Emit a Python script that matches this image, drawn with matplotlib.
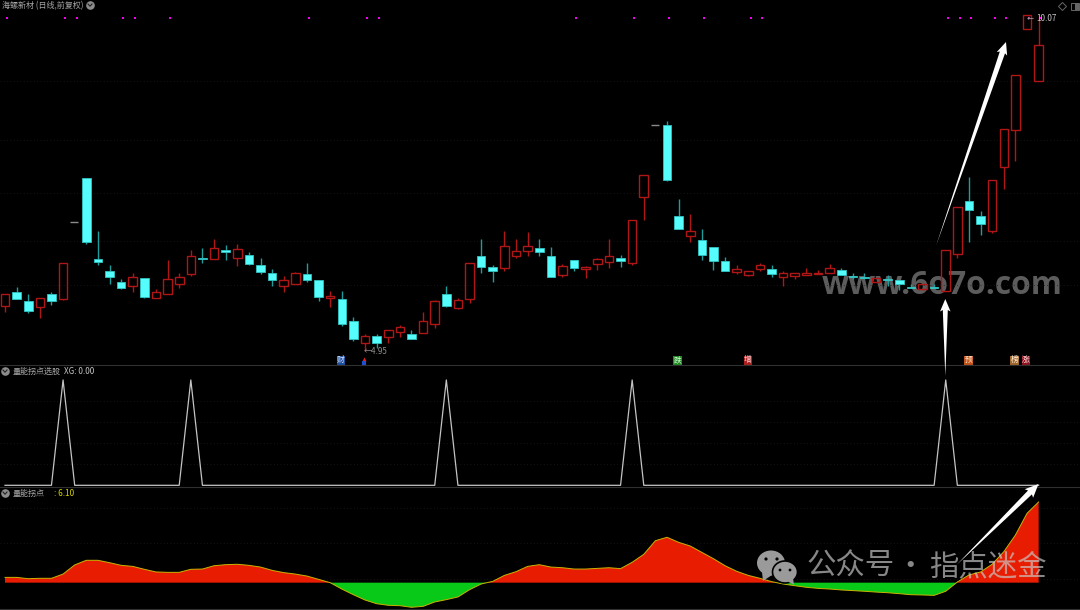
import matplotlib
matplotlib.use("Agg")
import matplotlib.pyplot as plt
from matplotlib.patches import Rectangle, Ellipse, Polygon
import numpy as np

plt.rcParams['font.family'] = ['Noto Sans CJK SC', 'DejaVu Sans']

# daily prices
opens = [5.63, 5.85, 5.70, 5.62, 5.81, 5.74, 6.91, 7.59, 6.34, 6.16,
         6.00, 5.94, 6.06, 5.76, 5.82, 5.96, 6.12, 6.37, 6.34, 6.48,
         6.36, 6.41, 6.26, 6.13, 5.94, 5.96, 6.12, 6.02, 5.76, 5.73,
         5.40, 5.07, 5.18, 5.15, 5.23, 5.20, 5.22, 5.36, 5.81, 5.60,
         5.73, 6.39, 6.23, 6.21, 6.39, 6.47, 6.51, 6.40, 6.11, 6.33,
         6.20, 6.27, 6.30, 6.37, 6.29, 7.30, 8.39, 8.39, 7.00, 6.70,
         6.63, 6.53, 6.32, 6.15, 6.11, 6.20, 6.19, 6.08, 6.09, 6.11,
         6.12, 6.13, 6.18, 6.09, 6.07, 5.99, 6.04, 6.02, 5.92, 5.89,
         5.92, 5.86, 6.43, 7.23, 7.00, 6.77, 7.75, 8.32, 9.85, 9.06]
highs = [5.82, 5.92, 5.82, 5.76, 5.85, 6.28, 6.91, 7.59, 6.77, 6.25,
         6.05, 6.13, 6.06, 5.89, 6.33, 6.14, 6.49, 6.52, 6.65, 6.56,
         6.58, 6.45, 6.37, 6.19, 6.09, 6.15, 6.28, 6.02, 5.86, 5.86,
         5.46, 5.20, 5.20, 5.26, 5.34, 5.26, 5.54, 5.72, 5.94, 5.75,
         6.28, 6.66, 6.25, 6.77, 6.66, 6.76, 6.65, 6.53, 6.27, 6.33,
         6.24, 6.36, 6.65, 6.41, 6.95, 7.63, 8.39, 8.45, 7.26, 7.04,
         6.80, 6.53, 6.38, 6.25, 6.16, 6.28, 6.26, 6.16, 6.14, 6.21,
         6.18, 6.27, 6.21, 6.14, 6.13, 6.06, 6.10, 6.02, 5.97, 5.96,
         5.97, 6.49, 7.14, 7.60, 7.08, 7.56, 8.33, 9.16, 10.07, 10.05]
lows = [5.54, 5.73, 5.52, 5.45, 5.65, 5.72, 6.91, 6.57, 6.25, 5.97,
        5.89, 5.85, 5.75, 5.76, 5.82, 5.91, 6.09, 6.28, 6.34, 6.33,
        6.24, 6.25, 6.12, 5.94, 5.85, 5.96, 6.00, 5.71, 5.62, 5.33,
        5.09, 4.95, 4.99, 5.07, 5.16, 5.13, 5.22, 5.30, 5.61, 5.58,
        5.67, 6.14, 6.00, 6.17, 6.37, 6.40, 6.39, 6.08, 6.07, 6.16,
        6.06, 6.18, 6.21, 6.23, 6.26, 6.95, 8.39, 7.54, 6.81, 6.61,
        6.33, 6.18, 6.16, 6.12, 6.09, 6.17, 6.08, 5.94, 6.05, 6.10,
        6.12, 6.13, 6.10, 6.05, 6.04, 5.99, 5.94, 5.87, 5.91, 5.87,
        5.91, 5.86, 6.37, 6.61, 6.71, 6.74, 7.41, 7.84, 9.85, 9.06]
closes = [5.82, 5.73, 5.56, 5.76, 5.71, 6.28, 6.91, 6.60, 6.30, 6.07,
          5.90, 6.07, 5.77, 5.85, 6.05, 6.08, 6.40, 6.34, 6.52, 6.45,
          6.50, 6.27, 6.15, 6.03, 6.03, 6.14, 6.02, 5.77, 5.79, 5.35,
          5.12, 5.18, 5.07, 5.26, 5.31, 5.13, 5.40, 5.70, 5.63, 5.72,
          6.28, 6.23, 6.17, 6.54, 6.47, 6.55, 6.45, 6.08, 6.24, 6.21,
          6.22, 6.34, 6.40, 6.32, 6.95, 7.63, 8.39, 7.55, 6.81, 6.77,
          6.41, 6.31, 6.16, 6.19, 6.16, 6.25, 6.12, 6.13, 6.14, 6.13,
          6.14, 6.21, 6.10, 6.08, 6.06, 6.06, 6.03, 5.96, 5.91, 5.96,
          5.91, 6.49, 7.14, 7.10, 6.88, 7.56, 8.33, 9.16, 10.07, 9.62]

# days flagged with a dot along the top of the price pane
dot_days = [0, 5, 6, 10, 11, 14, 26, 31, 32, 49, 54, 57, 60, 64, 65, 81, 82, 83, 85, 86, 88, 89]
price_grid = [5.95, 6.62, 7.35, 8.16, 9.06]

# XG signal fires on these days
xg_days = [5, 16, 38, 54, 81]
xg_grid = [0.2, 0.4, 0.6, 0.8]

# 量能拐点 line
turn_values = [0.40, 0.40, 0.30, 0.33, 0.33, 0.65, 1.34, 1.69, 1.69, 1.51,
               1.31, 1.23, 1.01, 0.81, 0.78, 0.78, 1.01, 1.03, 1.28, 1.36,
               1.39, 1.31, 1.18, 0.93, 0.76, 0.65, 0.50, 0.25, 0.00, -0.48,
               -0.91, -1.31, -1.59, -1.71, -1.74, -1.86, -1.79, -1.46, -1.28, -1.08,
               -0.53, -0.10, 0.10, 0.55, 0.83, 1.23, 1.36, 1.18, 1.13, 1.03,
               1.03, 1.08, 1.13, 1.06, 1.54, 2.14, 3.17, 3.43, 3.05, 2.77,
               2.29, 1.81, 1.28, 0.86, 0.55, 0.33, 0.08, -0.10, -0.23, -0.35,
               -0.43, -0.48, -0.55, -0.60, -0.65, -0.71, -0.76, -0.83, -0.91, -0.93,
               -0.96, -0.65, 0.05, 0.58, 0.81, 1.39, 2.34, 3.60, 5.24, 6.10]
turn_grid = [0.28, 3.0, 5.65]

W, H = 1080, 610
RED = '#b01616'
CYAN = '#55fdfd'
CYAN_WICK = '#1f9c9c'
GRID = '#1c1c1c'
LABEL = 5.8

fig = plt.figure(figsize=(W / 100, H / 100), dpi=100, facecolor='black')


def pane(top, bottom, ymin, ymax):
    ax = fig.add_axes([0, 1 - bottom / H, 1, (bottom - top) / H], facecolor='black')
    ax.set_xlim(-0.4305, 92.56)
    ax.set_ylim(ymin, ymax)
    ax.axis('off')
    return ax


days = np.arange(len(closes))

# site watermark goes under the candles
fig.text(822 / W, 1 - 285 / H, 'www.6o7o.com', color='#5c5c5c', fontsize=22.9, fontweight='bold',
         family=['Open Sans', 'DejaVu Sans'], va='center', zorder=-1)

# ---- price pane
ax1 = pane(0, 365, 4.73, 10.30)
ax1.hlines(price_grid, -0.43, 92.56, color=GRID, lw=0.6, linestyles=(0, (1, 3)), zorder=0)
for d, o, h, l, c in zip(days, opens, highs, lows, closes):
    if o == c and h == l:
        # flat limit day, only a dash
        ax1.hlines(o, d - 0.4, d + 0.3, color='#8a8a8a', lw=1.0)
        continue
    up = c >= o
    top, bot = max(o, c), min(o, c)
    wick = RED if up else CYAN_WICK
    ax1.vlines(d, top, h, color=wick, lw=1.0, zorder=2)
    ax1.vlines(d, l, bot, color=wick, lw=1.0, zorder=2)
    if up:
        ax1.add_patch(Rectangle((d - 0.37, bot), 0.74, top - bot, fc='none', ec=RED, lw=1.0, zorder=3))
    else:
        ax1.add_patch(Rectangle((d - 0.37, bot), 0.74, top - bot, fc=CYAN, ec='#30c4c4', lw=0.6, zorder=3))
ax1.scatter(np.array(dot_days) + 0.2, [10.02] * len(dot_days), s=2.2, marker='s', color='#f000f0', zorder=4, linewidths=0)

# ---- XG pane
ax2 = pane(365, 487, -0.016, 1.142)
ax2.hlines(xg_grid, -0.43, 92.56, color=GRID, lw=0.6, linestyles=(0, (1, 3)), zorder=0)
xg = np.zeros(len(days))
xg[xg_days] = 1
ax2.plot(days, xg, color='#c4c4c4', lw=0.9)

# ---- 量能拐点 pane
ax3 = pane(487, 609, -1.99, 7.23)
ax3.hlines(turn_grid, -0.43, 92.56, color=GRID, lw=0.6, linestyles=(0, (1, 3)), zorder=0)
turn = np.array(turn_values)
ax3.fill_between(days, turn, 0, where=turn >= 0, interpolate=True, color='#e81c00', lw=0)
ax3.fill_between(days, turn, 0, where=turn <= 0, interpolate=True, color='#08c818', lw=0)
ax3.plot(days, turn, color='#c8b400', lw=0.7)

# ---- overlay in pixel coordinates: frame lines, labels, arrows, watermarks
ov = fig.add_axes([0, 0, 1, 1], facecolor='none')
ov.set_xlim(0, W)
ov.set_ylim(H, 0)
ov.axis('off')

for y in [365, 487, 608.5]:
    ov.plot([0, W], [y, y], color='#303030', lw=0.8)


def small_icon(x, y):
    ov.plot(x, y, 'o', ms=6.2, color='#8c8c8c', mew=0)
    ov.plot([x - 2, x, x + 2], [y - 1, y + 1.2, y - 1], color='#202020', lw=0.8)


small_icon(90, 5)
small_icon(5, 371)
small_icon(5, 493)
ov.text(2, 5.5, '海螺新材 (日线,前复权)', color='#a6a6a6', fontsize=LABEL, va='center')
ov.text(12.5, 371, '量能拐点选股', color='#a6a6a6', fontsize=LABEL, va='center')
ov.text(64, 371, 'XG: 0.00', color='#c8c8c8', fontsize=LABEL, va='center')
ov.text(12.5, 493, '量能拐点', color='#a6a6a6', fontsize=LABEL, va='center')
ov.text(54, 493, ': 6.10', color='#d8d800', fontsize=LABEL, va='center')
ov.text(364, 351, '←4.95', color='#8c8c8c', fontsize=LABEL, va='center')
ov.text(1027, 18.5, '←', color='#a0a0a0', fontsize=5, va='center')
ov.text(1036, 18.5, '10.07', color='#c8c8c8', fontsize=LABEL, va='center')

ov.plot(1061.5, 6, 'D', ms=4.2, mfc='none', mec='#666666', mew=0.7)
ov.add_patch(Rectangle((1070.5, 2.5), 8, 7, fc='none', ec='#666666', lw=0.7))
ov.add_patch(Rectangle((1075, 2.5), 3.5, 7, fc='#666666', ec='none'))

# event tags above the XG pane
tags = [('财', 341, '#1d4f9c', '#d8e4ff'), ('跌', 677.5, '#1f8a22', '#d8ffd8'),
        ('增', 748, '#a82020', '#ffd8d8'), ('预', 968.5, '#c0521a', '#ffe4cc'),
        ('榜', 1014.5, '#a0682c', '#ffeedd'), ('涨', 1026, '#8c1420', '#ffd8d8')]
for label, x, bg, fg in tags:
    ov.add_patch(Rectangle((x - 4.2, 355.5), 8.4, 9, fc=bg, ec='none'))
    ov.text(x, 360, label, color=fg, fontsize=5.6, ha='center', va='center')
ov.plot(364, 359, '^', ms=3, color='#e02020', mew=0)
ov.plot(364, 362.5, 's', ms=2.4, color='#2050d0', mew=0)


def arrow(tail, tip, shaft, head_w, head_len):
    tail, tip = np.array(tail, float), np.array(tip, float)
    u = (tip - tail) / np.linalg.norm(tip - tail)
    n = np.array([-u[1], u[0]])
    neck = tip - u * head_len
    pts = [tail, neck + n * shaft / 2, neck + n * head_w / 2 - u * 1.5, tip,
           neck - n * head_w / 2 - u * 1.5, neck - n * shaft / 2]
    ov.add_patch(Polygon(pts, closed=True, fc='white', ec='none', zorder=8))


arrow((936, 246), (1006, 42), 5.5, 11, 11)
arrow((945.3, 376), (945.3, 299), 5, 10.5, 11)
arrow((956.5, 565), (1038.5, 484), 5.5, 12, 12)

# account watermark
ov.text(807, 566.5, '公众号', color='#c8c8c8', alpha=0.68, fontsize=21.2, va='center', zorder=9)
ov.text(910, 566.5, '·', color='#c8c8c8', alpha=0.68, fontsize=21.2, ha='center', va='center', zorder=9)
ov.text(929, 566.5, '指点迷金', color='#c8c8c8', alpha=0.68, fontsize=21.2, va='center', zorder=9)
ov.add_patch(Ellipse((771, 563), 28, 25, fc='#9a9a9a', ec='none', zorder=9))
ov.add_patch(Polygon([(762, 572), (763, 581), (772, 575)], fc='#9a9a9a', ec='none', zorder=9))
ov.add_patch(Ellipse((785, 572), 25, 22, fc='#9a9a9a', ec='black', lw=1.2, zorder=10))
ov.add_patch(Polygon([(787, 581), (794, 585), (793, 578)], fc='#9a9a9a', ec='none', zorder=10))
for ex, ey, r in [(766, 559, 3.2), (777, 559, 3.2), (780, 570, 2.8), (790, 570, 2.8)]:
    ov.add_patch(Ellipse((ex, ey), r, r, fc='black', ec='none', zorder=11))

fig.savefig('out.png', dpi=100, facecolor='black')
